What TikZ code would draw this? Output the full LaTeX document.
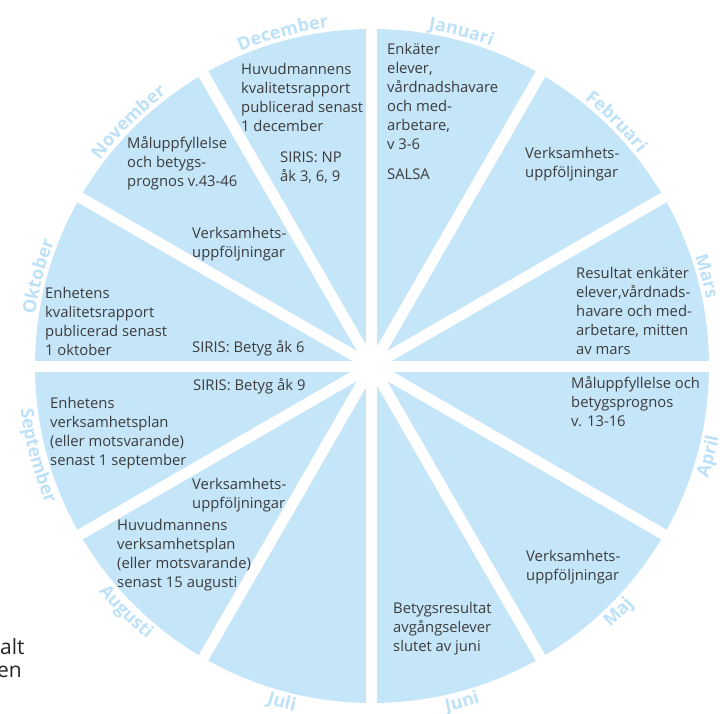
\documentclass[tikz,border=0pt]{standalone}
\usepackage{fontspec}
\setmainfont{Open Sans}
\usetikzlibrary{decorations.text}
\definecolor{wheel}{HTML}{C5E5F8}
\definecolor{month}{HTML}{BDE1F7}
\definecolor{ink}{HTML}{3C3C3C}
\newcommand\monthlook{\bfseries\fontsize{18}{20}\selectfont}

\begin{document}
\begin{tikzpicture}[x=1pt,y=1pt,
  note/.style={anchor=north west,inner sep=0pt,align=left,text=ink,font=\fontsize{14.8}{19}\selectfont},
  upper/.style={decorate,decoration={text along path,text align=center,text color=month,text={|\monthlook|#1}}},
  lower/.style={decorate,decoration={text along path,text align=center,text color=month,text={|\monthlook|#1}}}]
  \useasboundingbox (-372,-347) rectangle (348,366);
  % the wheel and its white spokes
  \fill[wheel] (0,0) circle[radius=337];
  \foreach \a in {0,30,...,150}
    \draw[white,line width=11pt] (\a:350) -- (\a+180:350);
  % month names round the rim
  \path[upper=Januari] (90:341) arc[start angle=90,end angle=60,radius=341];
  \path[upper=Februari] (60:341) arc[start angle=60,end angle=30,radius=341];
  \path[upper=Mars] (30:341) arc[start angle=30,end angle=0,radius=341];
  \path[lower=April] (-30:354) arc[start angle=-30,end angle=0,radius=354];
  \path[lower=Maj] (-60:354) arc[start angle=-60,end angle=-30,radius=354];
  \path[lower=Juni] (-90:354) arc[start angle=-90,end angle=-60,radius=354];
  \path[lower=Juli] (-120:354) arc[start angle=-120,end angle=-90,radius=354];
  \path[lower=Augusti] (-150:354) arc[start angle=-150,end angle=-120,radius=354];
  \path[lower=September] (-180:354) arc[start angle=-180,end angle=-150,radius=354];
  \path[upper=Oktober] (180:341) arc[start angle=180,end angle=150,radius=341];
  \path[upper=November] (150:341) arc[start angle=150,end angle=120,radius=341];
  \path[upper=December] (120:341) arc[start angle=120,end angle=90,radius=341];
  % what happens each month
  \node[note] (jan) at (15,325) {\strut Enkäter\\elever,\\vårdnadshavare\\och med-\\arbetare,\\v 3-6\\[11pt]SALSA};
  \node[note] (feb) at (153,221) {\strut Verksamhets-\\uppföljningar};
  \node[note] (mar) at (204,101) {\strut Resultat enkäter\\elever,vårdnads-\\havare och med-\\arbetare, mitten\\av mars};
  \node[note] (apr) at (199,-9) {\strut Måluppfyllelse och\\betygsprognos\\v. 13-16};
  \node[note] (maj) at (154,-182) {\strut Verksamhets-\\uppföljningar};
  \node[note] (jun) at (21,-234) {\strut Betygsresultat\\avgångselever\\slutet av juni};
  \node[note] (aug) at (-255,-151) {\strut Huvudmannens\\verksamhetsplan\\(eller motsvarande)\\senast 15 augusti};
  \node[note] (aug2) at (-180,-110) {\strut Verksamhets-\\uppföljningar};
  \node[note] (sep) at (-322,-29) {\strut Enhetens\\verksamhetsplan\\(eller motsvarande)\\senast 1 september};
  \node[note] (sep2) at (-179,-11) {\strut SIRIS: Betyg åk 9};
  \node[note] (okt) at (-327,81) {\strut Enhetens\\kvalitetsrapport\\publicerad senast\\1 oktober};
  \node[note] (okt2) at (-180,27) {\strut SIRIS: Betyg åk 6};
  \node[note] (nov) at (-245,231) {\strut Måluppfyllelse\\och betygs-\\prognos v.43-46};
  \node[note] (nov2) at (-180,141) {\strut Verksamhets-\\uppföljningar};
  \node[note] (dec) at (-131,305) {\strut Huvudmannens\\kvalitetsrapport\\publicerad senast\\1 december};
  \node[note] (dec2) at (-92,217) {\strut SIRIS: NP\\åk 3, 6, 9};
  % clipped words at the lower left
  \node[anchor=base west,inner sep=0pt,text=black!85,font=\fontsize{21}{25}\selectfont] (alt) at (-372,-288) {alt};
  \node[anchor=base west,inner sep=0pt,text=black!85,font=\fontsize{21}{25}\selectfont] (en) at (-375,-311) {en};
\end{tikzpicture}
\end{document}
